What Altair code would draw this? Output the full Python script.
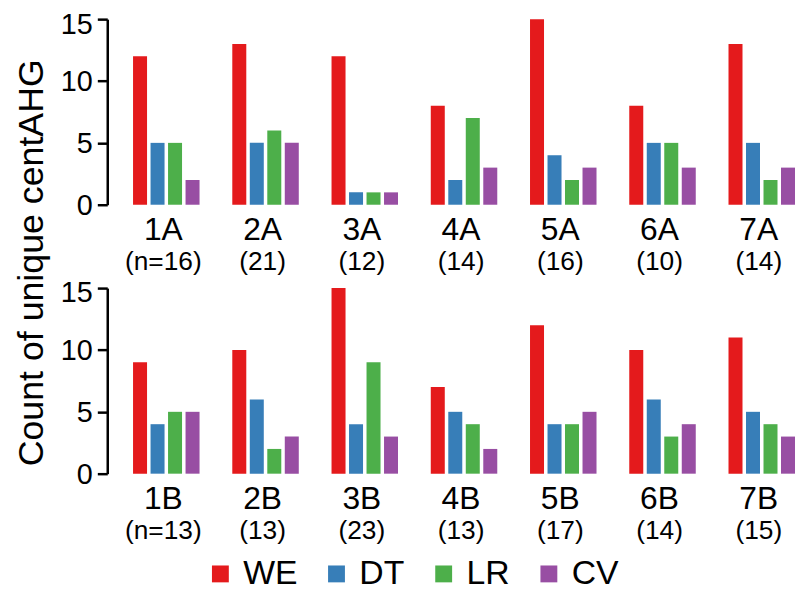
import altair as alt
import pandas as pd

FONT = "Liberation Sans"

series = ["WE", "DT", "LR", "CV"]
colors = ["#E41A1C", "#377EB8", "#4DAF4A", "#984EA3"]

groups_a = ["1A", "2A", "3A", "4A", "5A", "6A", "7A"]
counts_a = ["(n=16)", "(21)", "(12)", "(14)", "(16)", "(10)", "(14)"]
we_a = [12, 13, 12, 8, 15, 8, 13]
dt_a = [5, 5, 1, 2, 4, 5, 5]
lr_a = [5, 6, 1, 7, 2, 5, 2]
cv_a = [2, 5, 1, 3, 3, 3, 3]

groups_b = ["1B", "2B", "3B", "4B", "5B", "6B", "7B"]
counts_b = ["(n=13)", "(13)", "(23)", "(13)", "(17)", "(14)", "(15)"]
we_b = [9, 10, 15, 7, 12, 10, 11]
dt_b = [4, 6, 4, 5, 4, 6, 5]
lr_b = [5, 2, 9, 4, 4, 3, 4]
cv_b = [5, 3, 3, 2, 5, 4, 3]

y_ticks = [0, 5, 10, 15]
y_title = "Count of unique centAHG"

W = 693
H = 187

label_offset = {"condition": {"test": "datum.value === 15", "value": 5}, "value": 1}


def panel(groups, counts, cols, with_title):
    rows = []
    for s, vals in zip(series, cols):
        for g, v in zip(groups, vals):
            rows.append({"group": g, "series": s, "value": v})
    df = pd.DataFrame(rows)
    lab = pd.DataFrame({"group": groups, "n": counts})

    xscale = alt.Scale(domain=groups, paddingInner=0.33, paddingOuter=0.13, align=1)
    if with_title:
        yaxis = alt.Axis(values=y_ticks, title=y_title, titleX=-65, titleY=245,
                         titleBaseline="alphabetic", titleAngle=270, titleAlign="center",
                         labelOffset=label_offset)
    else:
        yaxis = alt.Axis(values=y_ticks, title=None, labelOffset=label_offset)

    bars = alt.Chart(df).mark_bar().encode(
        x=alt.X("group:N", scale=xscale, axis=None, sort=groups),
        xOffset=alt.XOffset("series:N", sort=series,
                            scale=alt.Scale(domain=series, paddingInner=0.2, paddingOuter=0)),
        y=alt.Y("value:Q", scale=alt.Scale(domain=[0, 15], nice=False), axis=yaxis),
        color=alt.Color("series:N", sort=series,
                        scale=alt.Scale(domain=series, range=colors),
                        legend=alt.Legend(title=None, orient="none", direction="horizontal",
                                          legendX=97, legendY=542)),
    )
    lab1 = alt.Chart(lab).mark_text(fontSize=32, baseline="alphabetic", dx=-3, font=FONT,
                                    color="black").encode(
        x=alt.X("group:N", scale=xscale, axis=None, sort=groups),
        y=alt.value(H + 36),
        text="group:N",
    )
    lab2 = alt.Chart(lab).mark_text(fontSize=26.5, baseline="alphabetic", dx=-3, font=FONT,
                                    color="black").encode(
        x=alt.X("group:N", scale=xscale, axis=None, sort=groups),
        y=alt.value(H + 66),
        text="n:N",
    )
    return alt.layer(bars, lab1, lab2).properties(width=W, height=H)


top = panel(groups_a, counts_a, [we_a, dt_a, lr_a, cv_a], True)
bottom = panel(groups_b, counts_b, [we_b, dt_b, lr_b, cv_b], False)

chart = alt.vconcat(top, bottom, spacing=84, bounds="flush").properties(
    padding={"left": 5, "top": 0, "right": 0, "bottom": 0}
).configure_view(stroke=None).configure_axis(
    grid=False,
    domainColor="black", domainWidth=2.5,
    tickColor="black", tickWidth=2.5, tickSize=10,
    labelFont=FONT, labelFontSize=29, labelColor="black", labelPadding=5,
    titleFont=FONT, titleFontSize=36, titleFontWeight="normal", titleColor="black",
).configure_legend(
    labelFont=FONT, labelFontSize=34, labelColor="black", labelOffset=6,
    symbolType="square", symbolSize=289, symbolStrokeWidth=0, symbolOpacity=1,
    columnPadding=22, padding=0,
)

chart.save("out.html", embed_options={"renderer": "svg", "actions": False})
